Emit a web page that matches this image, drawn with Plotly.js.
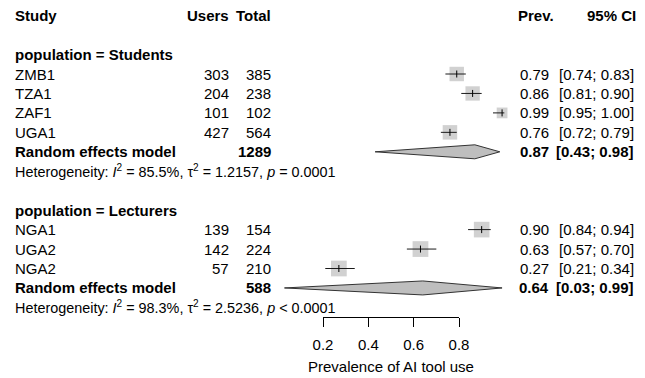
<!DOCTYPE html>
<html>
<head>
<meta charset="utf-8">
<script src="https://cdn.plot.ly/plotly-3.0.1.min.js"></script>
<style>
  html, body { margin: 0; padding: 0; background: #ffffff; }
  #chart { width: 645px; height: 378px; }
</style>
</head>
<body>
<div id="chart"></div>
<script>
// Individual studies
const STUDY  = ['ZMB1', 'TZA1', 'ZAF1', 'UGA1', 'NGA1', 'UGA2', 'NGA2'];
const GROUP  = ['Students', 'Students', 'Students', 'Students', 'Lecturers', 'Lecturers', 'Lecturers'];
const USERS  = [303, 204, 101, 427, 139, 142, 57];
const TOTAL  = [385, 238, 102, 564, 154, 224, 210];
const PREV   = [0.79, 0.86, 0.99, 0.76, 0.90, 0.63, 0.27];
const LOWER  = [0.74, 0.81, 0.95, 0.72, 0.84, 0.57, 0.21];
const UPPER  = [0.83, 0.90, 1.00, 0.79, 0.94, 0.70, 0.34];
const WEIGHT = [28.2, 27.8, 15.6, 28.4, 32.9, 33.6, 33.5];   // random-effects weight (%) within subgroup

// Subgroup pooled estimates
const GROUPS       = ['Students', 'Lecturers'];
const POOLED_TOTAL = [1289, 588];
const POOLED_PREV  = [0.87, 0.64];
const POOLED_LOWER = [0.43, 0.03];
const POOLED_UPPER = [0.98, 0.99];
const I2           = ['85.5%', '98.3%'];
const TAU2         = ['1.2157', '2.5236'];
const PVAL         = ['= 0.0001', '&lt; 0.0001'];

// Axis
const TICKS = [0.2, 0.4, 0.6, 0.8];
const AXIS_TITLE = 'Prevalence of AI tool use';

// ---- geometry / style ----
const W = 645, H = 378;
const FONT = '"Liberation Sans", Arial, Helvetica, sans-serif';
const FS = 15, FS_HET = 14.4;
const PX_PER_UNIT = 226.67;        // horizontal scale of the effect axis
const X_ZERO_PX = 277.67;          // pixel where prevalence 0 would sit
const ROW_PX = 19.45, ROW0_PX = 54.55;
const BOX_K = 2.72;                // box side = BOX_K * sqrt(weight)
const DIAMOND_HALF = 0.36;         // diamond half height in rows
const GREY = '#bebebe';

const pxToRow = p => (p - ROW0_PX) / ROW_PX;
const fmt = v => v.toFixed(2);

// Column anchors (paper fraction)
const COL = {
  study: 13 / W, users: 231 / W, total: 273 / W,
  prev: 551 / W, prevHead: 556 / W, ci: 636 / W, ciHead: 638 / W
};

// ---- lay out rows ----
const annotations = [];
function txt(x, y, text, anchor, opts) {
  opts = opts || {};
  annotations.push({
    xref: 'paper', yref: 'y', x: x, y: y, text: text,
    xanchor: anchor, yanchor: 'middle', showarrow: false,
    font: { family: FONT, size: opts.size || FS, color: '#000' }
  });
}
const B = s => '<b>' + s + '</b>';

// header
const HEAD_ROW = -2;
txt(COL.study, HEAD_ROW, B('Study'), 'left');
txt(COL.users, HEAD_ROW, B('Users'), 'right');
txt(COL.total, HEAD_ROW, B('Total'), 'right');
txt(COL.prevHead, HEAD_ROW, B('Prev.'), 'right');
txt(COL.ciHead, HEAD_ROW, B('95% CI'), 'right');

const studyRow = [];
const pooledRow = [];
let row = 0;
GROUPS.forEach((g, gi) => {
  txt(COL.study, row, B('population = ' + g), 'left');
  row += 1;
  STUDY.forEach((s, i) => {
    if (GROUP[i] !== g) return;
    studyRow[i] = row;
    txt(COL.study, row, s, 'left');
    txt(COL.users, row, String(USERS[i]), 'right');
    txt(COL.total, row, String(TOTAL[i]), 'right');
    txt(COL.prev, row, fmt(PREV[i]), 'right');
    txt(COL.ci, row, '[' + fmt(LOWER[i]) + '; ' + fmt(UPPER[i]) + ']', 'right');
    row += 1;
  });
  pooledRow[gi] = row;
  txt(COL.study, row, B('Random effects model'), 'left');
  txt(COL.total, row, B(String(POOLED_TOTAL[gi])), 'right');
  txt(COL.prev, row, B(fmt(POOLED_PREV[gi])), 'right');
  txt(COL.ci, row, B('[' + fmt(POOLED_LOWER[gi]) + '; ' + fmt(POOLED_UPPER[gi]) + ']'), 'right');
  row += 1;
  txt(COL.study, row,
      'Heterogeneity: <i>I</i><sup>2</sup> = ' + I2[gi] + ', \u03c4<sup>2</sup> = ' + TAU2[gi] +
      ', <i>p</i> ' + PVAL[gi], 'left', { size: FS_HET });
  row += 2;
});

// axis placement
const AXIS_LINE_PX = 317;
const axisTitleRow = pxToRow(366);
txt((X_ZERO_PX + PX_PER_UNIT * 0.5) / W, axisTitleRow, AXIS_TITLE, 'center');

// ---- traces ----
const traces = [];

// weighted boxes
traces.push({
  type: 'scatter', mode: 'markers', xaxis: 'x', yaxis: 'y',
  x: PREV, y: studyRow,
  marker: { symbol: 'square', color: GREY, size: WEIGHT.map(w => BOX_K * Math.sqrt(w)), line: { width: 0 } },
  hoverinfo: 'skip', showlegend: false
});

// confidence intervals
const ciX = [], ciY = [];
PREV.forEach((p, i) => {
  ciX.push(LOWER[i], UPPER[i], null);
  ciY.push(studyRow[i], studyRow[i], null);
});
traces.push({
  type: 'scatter', mode: 'lines', x: ciX, y: ciY,
  line: { color: '#1a1a1a', width: 1 }, hoverinfo: 'skip', showlegend: false
});

// point estimate ticks
traces.push({
  type: 'scatter', mode: 'markers', x: PREV, y: studyRow,
  marker: { symbol: 'line-ns', size: 5, color: '#000', line: { color: '#000', width: 1 } },
  hoverinfo: 'skip', showlegend: false
});

// pooled diamonds
GROUPS.forEach((g, gi) => {
  const r = pooledRow[gi];
  traces.push({
    type: 'scatter', mode: 'lines', fill: 'toself', fillcolor: GREY,
    x: [POOLED_LOWER[gi], POOLED_PREV[gi], POOLED_UPPER[gi], POOLED_PREV[gi], POOLED_LOWER[gi]],
    y: [r, r - DIAMOND_HALF, r, r + DIAMOND_HALF, r],
    line: { color: '#333333', width: 1 }, hoverinfo: 'skip', showlegend: false
  });
});

// carrier for the visible effect axis
traces.push({
  type: 'scatter', mode: 'markers', xaxis: 'x2', yaxis: 'y',
  x: [TICKS[0], TICKS[TICKS.length - 1]], y: [pxToRow(AXIS_LINE_PX), pxToRow(AXIS_LINE_PX)],
  marker: { opacity: 0, size: 1 }, hoverinfo: 'skip', showlegend: false
});

const layout = {
  width: W, height: H,
  margin: { l: 0, r: 0, t: 0, b: 0, pad: 0 },
  paper_bgcolor: '#ffffff', plot_bgcolor: 'rgba(0,0,0,0)',
  showlegend: false,
  font: { family: FONT, size: FS, color: '#000' },
  xaxis: {
    domain: [0, 1],
    range: [-X_ZERO_PX / PX_PER_UNIT, (W - X_ZERO_PX) / PX_PER_UNIT],
    visible: false, fixedrange: true
  },
  xaxis2: {
    domain: [(X_ZERO_PX + PX_PER_UNIT * TICKS[0]) / W, (X_ZERO_PX + PX_PER_UNIT * TICKS[TICKS.length - 1]) / W],
    range: [TICKS[0], TICKS[TICKS.length - 1]],
    anchor: 'free', position: (H - AXIS_LINE_PX) / H, side: 'bottom',
    tickvals: TICKS, ticktext: TICKS.map(t => t.toFixed(1)),
    ticks: 'outside', ticklen: 9, tickwidth: 1, tickcolor: '#000',
    showline: true, linecolor: '#000', linewidth: 1,
    showgrid: false, zeroline: false,
    tickfont: { family: FONT, size: FS, color: '#000' },
    ticklabelstandoff: 5, fixedrange: true
  },
  yaxis: {
    domain: [0, 1],
    range: [pxToRow(H), pxToRow(0)],
    visible: false, fixedrange: true
  },
  annotations: annotations
};

Plotly.newPlot('chart', traces, layout, { staticPlot: true, displayModeBar: false });
</script>
</body>
</html>
